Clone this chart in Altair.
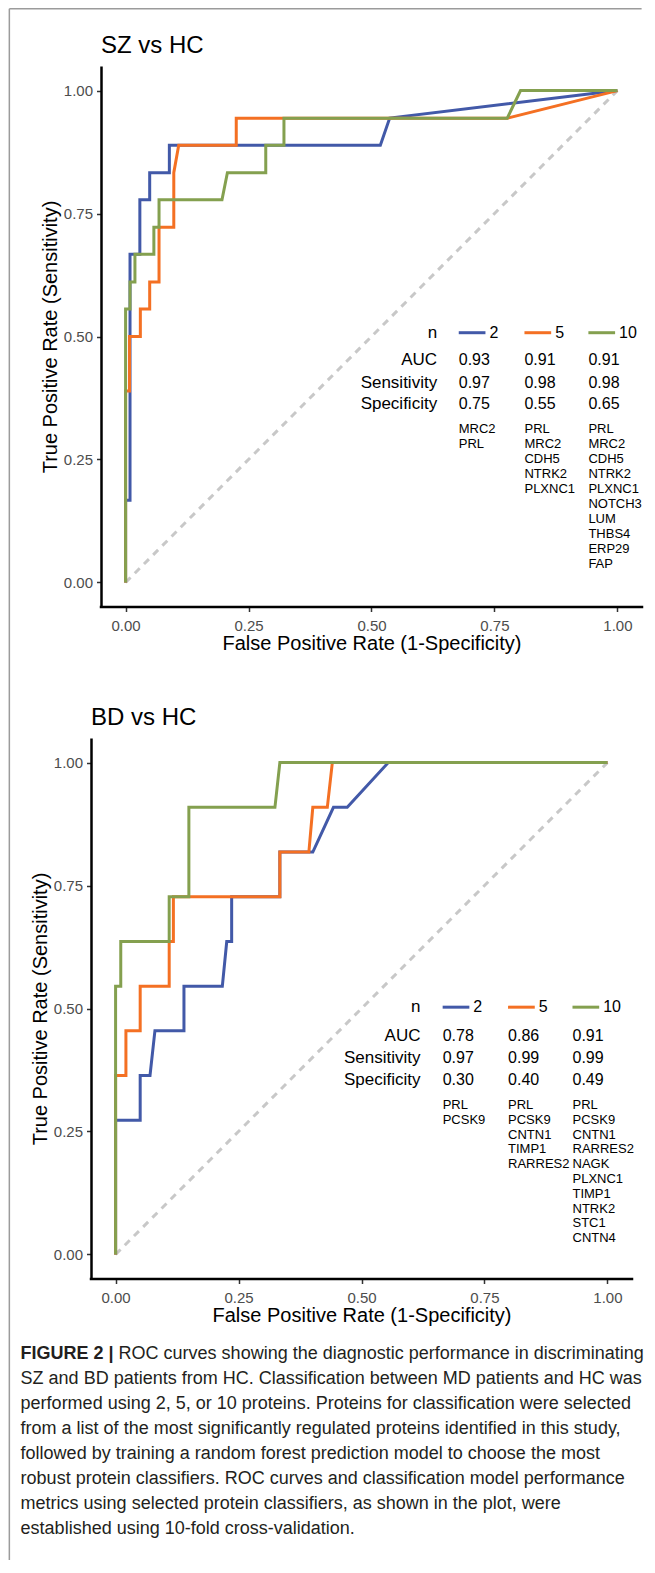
import altair as alt
import pandas as pd

FONT = "Liberation Sans"
SERIES = ["2", "5", "10"]
COLORS = ["#4259A8", "#F47023", "#84A04F"]
TICKS = [0, 0.25, 0.5, 0.75, 1.0]
ROW_LABELS = ["n", "AUC", "Sensitivity", "Specificity"]

# ---------------- SZ vs HC : ROC vertices ----------------
sz_fpr_2 = [0, 0, 0.009, 0.009, 0.029, 0.029, 0.049, 0.049, 0.089, 0.089, 0.518, 0.537, 1.0]
sz_tpr_2 = [0, 0.167, 0.167, 0.667, 0.667, 0.778, 0.778, 0.833, 0.833, 0.889, 0.889, 0.944, 1.0]
sz_fpr_5 = [0, 0, 0.008, 0.008, 0.030, 0.030, 0.049, 0.049, 0.068, 0.068, 0.098, 0.098, 0.108, 0.225, 0.225, 0.776, 1.0]
sz_tpr_5 = [0, 0.389, 0.389, 0.5, 0.5, 0.556, 0.556, 0.611, 0.611, 0.722, 0.722, 0.833, 0.889, 0.889, 0.944, 0.944, 1.0]
sz_fpr_10 = [0, 0, 0.009, 0.009, 0.019, 0.019, 0.0575, 0.0575, 0.068, 0.068, 0.196, 0.207, 0.285, 0.285, 0.322, 0.322, 0.776, 0.803, 1.0]
sz_tpr_10 = [0, 0.556, 0.556, 0.611, 0.611, 0.667, 0.667, 0.722, 0.722, 0.778, 0.778, 0.833, 0.833, 0.889, 0.889, 0.944, 0.944, 1.0, 1.0]

sz_auc = ["0.93", "0.91", "0.91"]
sz_sens = ["0.97", "0.98", "0.98"]
sz_spec = ["0.75", "0.55", "0.65"]
sz_prot_2 = ["MRC2", "PRL"]
sz_prot_5 = ["PRL", "MRC2", "CDH5", "NTRK2", "PLXNC1"]
sz_prot_10 = ["PRL", "MRC2", "CDH5", "NTRK2", "PLXNC1", "NOTCH3", "LUM", "THBS4", "ERP29", "FAP"]

# ---------------- BD vs HC : ROC vertices ----------------
bd_fpr_2 = [0, 0, 0.050, 0.050, 0.070, 0.080, 0.139, 0.139, 0.217, 0.226, 0.236, 0.236, 0.334, 0.334, 0.401, 0.443, 0.471, 0.5545, 1.0]
bd_tpr_2 = [0, 0.273, 0.273, 0.364, 0.364, 0.455, 0.455, 0.545, 0.545, 0.636, 0.636, 0.727, 0.727, 0.818, 0.818, 0.909, 0.909, 1.0, 1.0]
bd_fpr_5 = [0, 0, 0.021, 0.021, 0.050, 0.050, 0.109, 0.109, 0.1175, 0.1175, 0.334, 0.334, 0.393, 0.401, 0.4305, 0.4407, 1.0]
bd_tpr_5 = [0, 0.364, 0.364, 0.455, 0.455, 0.545, 0.545, 0.636, 0.636, 0.727, 0.727, 0.818, 0.818, 0.909, 0.909, 1.0, 1.0]
bd_fpr_10 = [0, 0, 0.0105, 0.0105, 0.109, 0.109, 0.149, 0.149, 0.324, 0.334, 1.0]
bd_tpr_10 = [0, 0.545, 0.545, 0.636, 0.636, 0.727, 0.727, 0.909, 0.909, 1.0, 1.0]

bd_auc = ["0.78", "0.86", "0.91"]
bd_sens = ["0.97", "0.99", "0.99"]
bd_spec = ["0.30", "0.40", "0.49"]
bd_prot_2 = ["PRL", "PCSK9"]
bd_prot_5 = ["PRL", "PCSK9", "CNTN1", "TIMP1", "RARRES2"]
bd_prot_10 = ["PRL", "PCSK9", "CNTN1", "RARRES2", "NAGK", "PLXNC1", "TIMP1", "NTRK2", "STC1", "CNTN4"]

# ---------------- caption ----------------
CAP_BOLD = "FIGURE 2 |"
CAP_FIRST = "ROC curves showing the diagnostic performance in discriminating"
CAP_REST = [
    "SZ and BD patients from HC. Classification between MD patients and HC was",
    "performed using 2, 5, or 10 proteins. Proteins for classification were selected",
    "from a list of the most significantly regulated proteins identified in this study,",
    "followed by training a random forest prediction model to choose the most",
    "robust protein classifiers. ROC curves and classification model performance",
    "metrics using selected protein classifiers, as shown in the plot, were",
    "established using 10-fold cross-validation.",
]

# ---------------- layout (pixels) ----------------
PW, PH = 541, 541          # plot area of each panel
SHIFT = 10                 # top panel sits 10px right of the bottom one
GAP = 131                  # vertical gap between panel plot areas
ORIGIN_X, ORIGIN_Y = 90.4, 65.9   # absolute page position of concat origin
PAGE = 8
BW = 1.5                   # border width
MINX, MINY = PAGE - ORIGIN_X, PAGE - ORIGIN_Y


def curve_df(fpr, tpr):
    return pd.DataFrame({"fpr": fpr, "tpr": tpr, "i": list(range(len(fpr)))})


def roc_panel(title, curves, vals, prots, pos, shift):
    unit = PW / 1.1
    xs = alt.Scale(domain=[-0.05 - shift / unit, 1.05], nice=False, zero=False)
    ys = alt.Scale(domain=[-0.05, 1.05], nice=False, zero=False)
    xax = alt.Axis(values=TICKS, format=".2f", title="False Positive Rate (1-Specificity)",
                   domain=False, labelPadding=7, titlePadding=0,
                   titleX=shift + PW / 2)
    yax = alt.Axis(values=TICKS, format=".2f", title="True Positive Rate (Sensitivity)",
                   offset=-shift, domainColor="black", domainWidth=2.5,
                   labelPadding=4, titlePadding=3)
    X = alt.X("fpr:Q", scale=xs, axis=xax)
    Y = alt.Y("tpr:Q", scale=ys, axis=yax)

    diag = alt.Chart(pd.DataFrame({"fpr": [0, 1], "tpr": [0, 1], "i": [0, 1]})).mark_line(
        color="#C8C8C8", strokeDash=[7, 6], strokeWidth=3).encode(x=X, y=Y, order="i:Q")

    xline = alt.Chart(pd.DataFrame({"a": [-0.05], "b": [1.05], "c": [-0.05]})).mark_rule(
        color="black", strokeWidth=2.5, strokeCap="square").encode(
        x=alt.X("a:Q", scale=xs), x2="b:Q", y=alt.Y("c:Q", scale=ys))

    layers = [diag, xline]
    for (fpr, tpr), col in zip(curves, COLORS):
        layers.append(alt.Chart(curve_df(fpr, tpr)).mark_line(
            color=col, strokeWidth=3, strokeJoin="miter").encode(
            x=alt.X("fpr:Q", scale=xs), y=alt.Y("tpr:Q", scale=ys), order="i:Q"))

    # annotation table
    lab = pd.DataFrame({"x": [pos["label_x"]] * 4, "y": pos["rows"], "t": ROW_LABELS})
    rows = []
    for j in range(3):
        for r, arr in enumerate(vals):
            rows.append({"x": pos["cols"][j], "y": pos["rows"][r + 1], "t": arr[j]})
        rows.append({"x": pos["cols"][j] + pos["num_dx"], "y": pos["rows"][0], "t": SERIES[j]})
    val_df = pd.DataFrame(rows)
    key_df = pd.DataFrame({"x": pos["cols"], "x2": [c + pos["key_len"] for c in pos["cols"]],
                           "y": [pos["rows"][0]] * 3, "n": SERIES})
    prow = []
    for j, plist in enumerate(prots):
        for k, name in enumerate(plist):
            prow.append({"x": pos["cols"][j], "y": pos["prot_y0"] - k * pos["prot_step"], "t": name})
    prot_df = pd.DataFrame(prow)

    layers.append(alt.Chart(lab).mark_text(align="right", baseline="middle", font=FONT,
                                           fontSize=17, color="black").encode(
        x=alt.X("x:Q", scale=xs), y=alt.Y("y:Q", scale=ys), text="t:N"))
    layers.append(alt.Chart(val_df).mark_text(align="left", baseline="middle", font=FONT,
                                              fontSize=16, color="black").encode(
        x=alt.X("x:Q", scale=xs), y=alt.Y("y:Q", scale=ys), text="t:N"))
    layers.append(alt.Chart(key_df).mark_rule(strokeWidth=3).encode(
        x=alt.X("x:Q", scale=xs), x2="x2:Q", y=alt.Y("y:Q", scale=ys),
        color=alt.Color("n:N", scale=alt.Scale(domain=SERIES, range=COLORS), legend=None)))
    layers.append(alt.Chart(prot_df).mark_text(align="left", baseline="middle", font=FONT,
                                               fontSize=13, color="black").encode(
        x=alt.X("x:Q", scale=xs), y=alt.Y("y:Q", scale=ys), text="t:N"))

    return alt.layer(*layers).properties(
        width=PW + shift, height=PH,
        title=alt.TitleParams(text=title, anchor="start", frame="group", fontSize=24,
                              font=FONT, fontWeight="normal", color="black",
                              offset=14, baseline="alphabetic", dx=shift, dy=25))


sz_pos = {"label_x": 0.6335, "cols": [0.6774, 0.811, 0.941],
          "rows": [0.5077, 0.4522, 0.4061, 0.3622], "prot_y0": 0.3114, "prot_step": 0.0304,
          "key_len": 0.0543, "num_dx": 0.0624}
bd_pos = {"label_x": 0.620, "cols": [0.665, 0.798, 0.929],
          "rows": [0.5027, 0.445, 0.3988, 0.3548], "prot_y0": 0.3039, "prot_step": 0.0301,
          "key_len": 0.0543, "num_dx": 0.0624}

top = roc_panel("SZ vs HC",
                [(sz_fpr_2, sz_tpr_2), (sz_fpr_5, sz_tpr_5), (sz_fpr_10, sz_tpr_10)],
                [sz_auc, sz_sens, sz_spec], [sz_prot_2, sz_prot_5, sz_prot_10], sz_pos, SHIFT)
bottom = roc_panel("BD vs HC",
                   [(bd_fpr_2, bd_tpr_2), (bd_fpr_5, bd_tpr_5), (bd_fpr_10, bd_tpr_10)],
                   [bd_auc, bd_sens, bd_spec], [bd_prot_2, bd_prot_5, bd_prot_10], bd_pos, 0)

# ---------------- caption + figure border ----------------
CAP_H = 120
cap_top = 2 * PH + 2 * GAP                # concat y of caption group
line1_abs, line_step = 1354.0, 25.0
cap_y0 = line1_abs - ORIGIN_Y - cap_top
cap_x = 20 - ORIGIN_X
cy = alt.Scale(domain=[0, 7], range=[cap_y0, cap_y0 + 7 * line_step])

bold_df = pd.DataFrame({"line": [0], "t": [CAP_BOLD]})
first_df = pd.DataFrame({"line": [0], "t": [CAP_FIRST]})
rest_df = pd.DataFrame({"line": list(range(1, 8)), "t": CAP_REST})
txt = dict(align="left", baseline="middle", font=FONT, fontSize=18, color="#231F20")
cap_bold = alt.Chart(bold_df).mark_text(fontWeight="bold", **txt).encode(
    x=alt.value(cap_x), y=alt.Y("line:Q", scale=cy, axis=None), text="t:N")
cap_first = alt.Chart(first_df).mark_text(**txt).encode(
    x=alt.value(cap_x + 98), y=alt.Y("line:Q", scale=cy, axis=None), text="t:N")
cap_rest = alt.Chart(rest_df).mark_text(**txt).encode(
    x=alt.value(cap_x), y=alt.Y("line:Q", scale=cy, axis=None), text="t:N")

bx = MINX + BW / 2
by = MINY - cap_top + BW / 2
b_bottom = 1560 - ORIGIN_Y - cap_top
b_right = 641 - ORIGIN_X
one = pd.DataFrame({"k": [0]})
border_v = alt.Chart(one).mark_rule(color="#9B9B9B", strokeWidth=BW).encode(
    x=alt.value(bx), y=alt.value(by), y2=alt.value(b_bottom))
border_h = alt.Chart(one).mark_rule(color="#9B9B9B", strokeWidth=BW).encode(
    x=alt.value(bx), x2=alt.value(b_right), y=alt.value(by))

caption = alt.layer(cap_bold, cap_first, cap_rest, border_v, border_h).properties(
    width=PW, height=CAP_H)

chart = alt.vconcat(top, bottom, caption, spacing=GAP, bounds="flush").properties(
    padding=0, background="white"
).configure_view(stroke=None).configure_axis(
    grid=False, labelFont=FONT, labelFontSize=15, labelColor="#4D4D4D",
    tickColor="#333333", tickWidth=1.5, tickSize=4.5,
    titleFont=FONT, titleFontSize=20, titleFontWeight="normal", titleColor="black")

chart.save("out.html", embed_options={"renderer": "svg", "actions": False})
